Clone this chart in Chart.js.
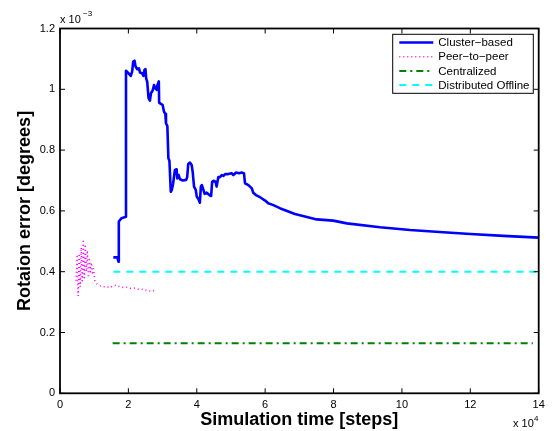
<!DOCTYPE html>
<html>
<head>
<meta charset="utf-8">
<script src="https://cdn.jsdelivr.net/npm/chart.js@4"></script>
<style>
  html, body { margin: 0; padding: 0; background: #fff; }
  #wrap { width: 552px; height: 431px; }
</style>
</head>
<body>
<div id="wrap"><canvas id="rotChart" width="552" height="431"></canvas></div>
<script>
// x in units of 1e4 steps, y in units of 1e-3 degrees
var clusterX = [1.56, 1.68, 1.71, 1.72, 1.80, 1.93, 1.93, 2.00, 2.07, 2.11, 2.14, 2.18, 2.21, 2.26, 2.31, 2.34,
  2.40, 2.44, 2.47, 2.50, 2.52, 2.55, 2.59, 2.63, 2.66, 2.71, 2.75, 2.79, 2.83, 2.85, 2.89, 2.90, 2.95, 3.00,
  3.04, 3.08, 3.10, 3.14, 3.17, 3.20, 3.24, 3.27, 3.31, 3.36, 3.41, 3.43, 3.47, 3.51, 3.59, 3.69, 3.72, 3.75,
  3.80, 3.85, 3.88, 3.92, 3.97, 4.00, 4.05, 4.09, 4.12, 4.15, 4.19, 4.23, 4.29, 4.37, 4.42, 4.45, 4.49, 4.55,
  4.58, 4.63, 4.68, 4.73, 4.78, 4.83, 4.92, 5.02, 5.07, 5.15, 5.24, 5.31, 5.38, 5.41, 5.51, 5.61, 5.65, 5.73,
  5.85, 6.00, 6.09, 6.24, 6.43, 6.87, 7.51, 7.99, 8.39, 9.36, 10.24, 11.21, 12.00, 12.97, 14.00];
var clusterY = [0.447, 0.447, 0.433, 0.565, 0.576, 0.581, 1.061, 1.053, 1.044, 1.058, 1.091, 1.094, 1.075, 1.066,
  1.069, 1.055, 1.053, 1.044, 1.064, 1.066, 1.036, 1.025, 0.971, 0.963, 0.987, 0.996, 1.014, 1.003, 0.998, 1.014,
  1.026, 0.956, 0.952, 0.949, 0.927, 0.919, 0.888, 0.879, 0.773, 0.765, 0.663, 0.669, 0.691, 0.735, 0.737, 0.707,
  0.718, 0.704, 0.700, 0.702, 0.711, 0.754, 0.759, 0.751, 0.729, 0.680, 0.669, 0.647, 0.638, 0.627, 0.680, 0.685,
  0.671, 0.656, 0.660, 0.652, 0.649, 0.696, 0.699, 0.696, 0.680, 0.711, 0.711, 0.718, 0.715, 0.721, 0.721, 0.724,
  0.718, 0.726, 0.724, 0.726, 0.724, 0.691, 0.685, 0.674, 0.660, 0.652, 0.645, 0.634, 0.625, 0.619, 0.609, 0.590,
  0.572, 0.568, 0.559, 0.546, 0.537, 0.530, 0.524, 0.518, 0.512];

var peerX = [0.47, 0.50, 0.53, 0.56, 0.59, 0.62, 0.65, 0.68, 0.71, 0.74, 0.77, 0.80, 0.83, 0.86, 0.89, 0.92,
  0.95, 0.98, 1.02, 1.08, 1.17, 1.25, 1.37, 1.45, 1.55, 1.66, 1.75, 1.85, 1.95, 2.05, 2.15, 2.24, 2.35, 2.45,
  2.54, 2.65, 2.72, 2.80];
var peerY = [0.37, 0.45, 0.32, 0.46, 0.35, 0.48, 0.37, 0.50, 0.38, 0.49, 0.40, 0.47, 0.38, 0.44, 0.40, 0.43,
  0.39, 0.41, 0.367, 0.360, 0.354, 0.350, 0.351, 0.347, 0.353, 0.356, 0.350, 0.348, 0.349, 0.345, 0.347, 0.344,
  0.341, 0.343, 0.338, 0.336, 0.338, 0.336];

var centralX = [1.54, 13.83];
var centralY = [0.165, 0.165];
var offlineX = [1.56, 13.95];
var offlineY = [0.40, 0.40];

var seriesLabels = ['Cluster\u2212based', 'Peer\u2212to\u2212peer', 'Centralized', 'Distributed Offline'];

function pts(xs, ys) {
  return xs.map(function (x, i) { return { x: x, y: ys[i] }; });
}

var FONT = '"Liberation Sans", Arial, Helvetica, sans-serif';

// inward ticks on all four sides, frame and the exponent labels
var frameTicks = {
  id: 'frameTicks',
  afterDatasetsDraw: function (chart) {
    var ctx = chart.ctx, a = chart.chartArea, sx = chart.scales.x, sy = chart.scales.y;
    ctx.save();
    ctx.strokeStyle = '#000';
    ctx.lineWidth = 1;
    ctx.beginPath();
    sx.ticks.forEach(function (t) {
      var px = sx.getPixelForValue(t.value);
      ctx.moveTo(px, a.bottom); ctx.lineTo(px, a.bottom - 5);
      ctx.moveTo(px, a.top); ctx.lineTo(px, a.top + 5);
    });
    sy.ticks.forEach(function (t) {
      var py = sy.getPixelForValue(t.value);
      ctx.moveTo(a.left, py); ctx.lineTo(a.left + 5, py);
      ctx.moveTo(a.right, py); ctx.lineTo(a.right - 5, py);
    });
    ctx.stroke();
    ctx.lineWidth = 1.8;
    ctx.strokeRect(a.left, a.top, a.right - a.left, a.bottom - a.top);

    ctx.fillStyle = '#000';
    ctx.textBaseline = 'alphabetic';
    ctx.textAlign = 'left';
    ctx.font = '11px ' + FONT;
    ctx.fillText('x 10', a.left, a.top - 5.5);
    ctx.fillText('x 10', 513, 426.5);
    ctx.font = '8px ' + FONT;
    ctx.fillText('\u22123', a.left + 23, a.top - 13);
    ctx.fillText('4', 534, 421);
    ctx.restore();
  }
};

// boxed legend inside the upper-right corner
var boxLegend = {
  id: 'boxLegend',
  afterDraw: function (chart) {
    var ctx = chart.ctx;
    var bx = 392.7, by = 34.3, bw = 140.6, bh = 59;
    ctx.save();
    ctx.fillStyle = '#fff';
    ctx.fillRect(bx, by, bw, bh);
    ctx.strokeStyle = '#000';
    ctx.lineWidth = 1;
    ctx.strokeRect(bx, by, bw, bh);
    ctx.font = '11.5px ' + FONT;
    ctx.textBaseline = 'middle';
    ctx.textAlign = 'left';
    chart.data.datasets.forEach(function (ds, i) {
      var ry = 42.5 + i * 14.2;
      ctx.beginPath();
      ctx.strokeStyle = ds.borderColor;
      ctx.lineWidth = ds.borderWidth;
      ctx.setLineDash(ds.borderDash || []);
      ctx.moveTo(399.3, ry);
      ctx.lineTo(433.3, ry);
      ctx.stroke();
      ctx.setLineDash([]);
      ctx.fillStyle = '#000';
      ctx.fillText(ds.label, 438.3, ry + 0.5);
    });
    ctx.restore();
  }
};

// plain tick text: 0, 0.2 ... 1, 1.2
function plainTick(v) {
  return String(Math.round(v * 10) / 10);
}

var ctx = document.getElementById('rotChart').getContext('2d');
var rotChart = new Chart(ctx, {
  type: 'line',
  data: {
    datasets: [{
      label: seriesLabels[0],
      data: pts(clusterX, clusterY),
      borderColor: '#0000ff',
      borderWidth: 2.6,
      borderDash: []
    }, {
      label: seriesLabels[1],
      data: pts(peerX, peerY),
      borderColor: '#ff00ff',
      borderWidth: 1.5,
      borderDash: [1, 3]
    }, {
      label: seriesLabels[2],
      data: pts(centralX, centralY),
      borderColor: '#008000',
      borderWidth: 2,
      borderDash: [7, 4, 2, 4]
    }, {
      label: seriesLabels[3],
      data: pts(offlineX, offlineY),
      borderColor: '#00ffff',
      borderWidth: 2,
      borderDash: [7, 6]
    }]
  },
  options: {
    responsive: false,
    animation: false,
    devicePixelRatio: 1,
    layout: { padding: { left: 0, right: 13.3, top: 28.5, bottom: 0 } },
    elements: {
      point: { radius: 0 },
      line: { tension: 0, fill: false, borderJoinStyle: 'round' }
    },
    scales: {
      x: {
        type: 'linear',
        min: 0,
        max: 14,
        grid: { display: false, drawTicks: false },
        border: { display: false },
        ticks: { stepSize: 2, padding: 5, color: '#000', font: { family: FONT, size: 11 }, callback: plainTick },
        title: {
          display: true,
          text: 'Simulation time [steps]',
          color: '#000',
          font: { family: FONT, size: 18, weight: 'bold' },
          padding: { top: 0, bottom: 0 }
        },
        afterFit: function (scale) { scale.height = 37.7; }
      },
      y: {
        type: 'linear',
        min: 0,
        max: 1.2,
        grid: { display: false, drawTicks: false },
        border: { display: false },
        ticks: { stepSize: 0.2, padding: 5, color: '#000', font: { family: FONT, size: 11 }, callback: plainTick },
        title: {
          display: true,
          text: 'Rotaion error [degrees]',
          color: '#000',
          font: { family: FONT, size: 18, weight: 'bold' },
          padding: { top: 14, bottom: 0 }
        },
        afterFit: function (scale) { scale.width = 60; }
      }
    },
    plugins: {
      legend: { display: false },
      tooltip: { enabled: false }
    }
  },
  plugins: [frameTicks, boxLegend]
});
</script>
</body>
</html>
